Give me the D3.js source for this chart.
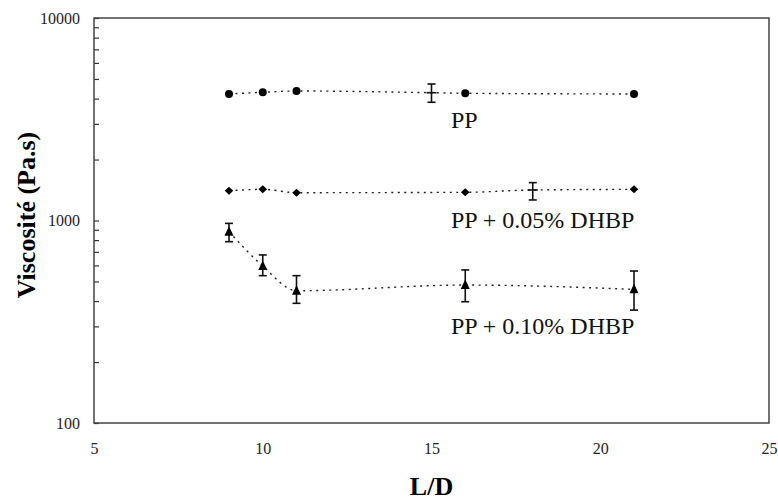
<!DOCTYPE html>
<html>
<head>
<meta charset="utf-8">
<script src="https://cdn.jsdelivr.net/npm/d3@7"></script>
<style>
  body { margin: 0; background: #fff; }
  svg text { font-family: "Liberation Serif", "Times New Roman", serif; }
</style>
</head>
<body>
<div id="chart"></div>
<script>
// L/D values and viscosities (Pa.s)
var ldPP = [9, 10, 11, 16, 21];
var viscPP = [4214, 4296, 4360, 4249, 4214];
var ldPPmean = [15];
var viscPPmean = [4277];
var lowPPmean = [3836];
var highPPmean = [4721];

var ld005 = [9, 10, 11, 16, 21];
var visc005 = [1403, 1425, 1372, 1378, 1425];
var ld005mean = [18];
var visc005mean = [1415];
var low005mean = [1263];
var high005mean = [1538];

var ld010 = [9, 10, 11, 16, 21];
var visc010 = [880, 596, 450, 480, 457];
var low010 = [786, 534, 390, 397, 361];
var high010 = [968, 676, 534, 570, 563];

var xTicks = [5, 10, 15, 20, 25];
var yLabels = [100, 1000, 10000];
var seriesLabels = ['PP', 'PP + 0.05% DHBP', 'PP + 0.10% DHBP'];

var serif = '"Liberation Serif", "Times New Roman", serif';
var width = 778, height = 500;
var margin = {top: 18, right: 9, bottom: 77, left: 94};
var w = width - margin.left - margin.right;
var h = height - margin.top - margin.bottom;

var svg = d3.select('#chart').append('svg')
    .attr('width', width)
    .attr('height', height);
var g = svg.append('g').attr('transform', 'translate(' + margin.left + ',' + margin.top + ')');

var x = d3.scaleLinear().domain([5, 25]).range([0, w]);
var y = d3.scaleLog().domain([100, 10000]).range([h, 0]);

// y ticks: every 1..9 x decade, labels only on decades
var yTicks = [];
[100, 1000].forEach(function (d) {
    for (var k = 1; k < 10; k++) yTicks.push(d * k);
});
yTicks.push(10000);

var yAxis = g.append('g')
    .call(d3.axisLeft(y).tickValues(yTicks).tickSizeInner(-5).tickSizeOuter(0).tickPadding(14)
        .tickFormat(function (d) { return yLabels.indexOf(d) >= 0 ? d : ''; }));
yAxis.select('.domain').remove();
yAxis.selectAll('line').attr('stroke', '#333').attr('stroke-width', 1.2);
yAxis.selectAll('text').attr('font-size', 16).attr('fill', '#222')
    .style('font-family', serif);

var xAxis = g.append('g')
    .attr('transform', 'translate(0,' + h + ')')
    .call(d3.axisBottom(x).tickValues(xTicks).tickSize(0).tickPadding(20));
xAxis.select('.domain').remove();
xAxis.selectAll('text').attr('font-size', 16).attr('fill', '#222')
    .style('font-family', serif);

// frame
g.append('rect')
    .attr('width', w).attr('height', h)
    .attr('fill', 'none').attr('stroke', '#444').attr('stroke-width', 1.5);

var line = d3.line()
    .x(function (d) { return x(d[0]); })
    .y(function (d) { return y(d[1]); })
    .curve(d3.curveMonotoneX);

function merged(xs, ys, xs2, ys2) {
    var pts = xs.map(function (v, i) { return [v, ys[i]]; })
        .concat(xs2.map(function (v, i) { return [v, ys2[i]]; }));
    return pts.sort(function (a, b) { return a[0] - b[0]; });
}

var lines = [
    merged(ldPP, viscPP, ldPPmean, viscPPmean),
    merged(ld005, visc005, ld005mean, visc005mean),
    merged(ld010, visc010, [], [])
];
lines.forEach(function (pts) {
    g.append('path')
        .datum(pts)
        .attr('fill', 'none')
        .attr('stroke', '#222')
        .attr('stroke-width', 1.4)
        .attr('stroke-dasharray', '2,4.5')
        .attr('d', line);
});

function errorBars(xs, lows, highs, ys, dash) {
    xs.forEach(function (v, i) {
        var cx = x(v);
        var eg = g.append('g').attr('stroke', '#111').attr('stroke-width', 1.6);
        eg.append('line').attr('x1', cx).attr('x2', cx).attr('y1', y(lows[i])).attr('y2', y(highs[i]));
        eg.append('line').attr('x1', cx - 4).attr('x2', cx + 4).attr('y1', y(lows[i])).attr('y2', y(lows[i]));
        eg.append('line').attr('x1', cx - 4).attr('x2', cx + 4).attr('y1', y(highs[i])).attr('y2', y(highs[i]));
        if (dash) {
            eg.append('line').attr('x1', cx - 5).attr('x2', cx + 5).attr('y1', y(ys[i])).attr('y2', y(ys[i]));
        }
    });
}

errorBars(ldPPmean, lowPPmean, highPPmean, viscPPmean, true);
errorBars(ld005mean, low005mean, high005mean, visc005mean, true);
errorBars(ld010, low010, high010, visc010, false);

// markers
g.selectAll('.circ').data(ldPP).enter().append('circle')
    .attr('cx', function (d) { return x(d); })
    .attr('cy', function (d, i) { return y(viscPP[i]); })
    .attr('r', 4)
    .attr('fill', '#000');

g.selectAll('.diam').data(ld005).enter().append('path')
    .attr('transform', function (d, i) { return 'translate(' + x(d) + ',' + y(visc005[i]) + ')'; })
    .attr('d', 'M0,-4L4.3,0L0,4L-4.3,0Z')
    .attr('fill', '#000');

g.selectAll('.tri').data(ld010).enter().append('path')
    .attr('transform', function (d, i) { return 'translate(' + x(d) + ',' + y(visc010[i]) + ')'; })
    .attr('d', 'M0,-5.5L4.5,4L-4.5,4Z')
    .attr('fill', '#000');

// series labels
var labelPos = [[451, 128], [451, 228], [451, 334]];
seriesLabels.forEach(function (t, i) {
    svg.append('text')
        .attr('x', labelPos[i][0])
        .attr('y', labelPos[i][1])
        .attr('font-size', 24)
        .attr('fill', '#111')
        .style('font-family', serif)
        .text(t);
});

// axis titles
svg.append('text')
    .attr('x', margin.left + w / 2)
    .attr('y', 495)
    .attr('text-anchor', 'middle')
    .attr('font-size', 26)
    .attr('font-weight', 'bold')
    .style('font-family', serif)
    .text('L/D');

svg.append('text')
    .attr('transform', 'translate(35,215) rotate(-90)')
    .attr('text-anchor', 'middle')
    .attr('font-size', 26)
    .attr('font-weight', 'bold')
    .style('font-family', serif)
    .text('Viscosité (Pa.s)');
</script>
</body>
</html>
